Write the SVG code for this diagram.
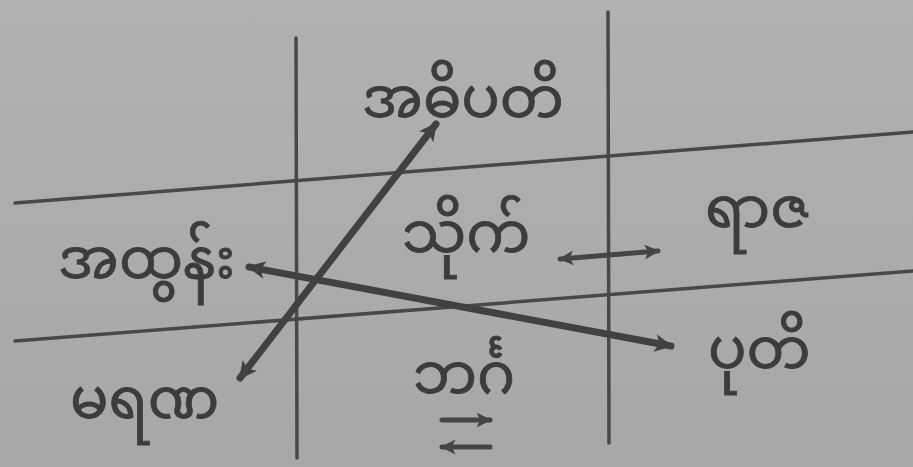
<svg xmlns="http://www.w3.org/2000/svg" width="913" height="467" viewBox="0 0 913 467">
  <defs>
    <linearGradient id="bg" x1="0" y1="0" x2="0" y2="1">
      <stop offset="0" stop-color="#b1b1b3"/>
      <stop offset="1" stop-color="#a7a7a9"/>
    </linearGradient>
    <marker id="headL" viewBox="0 0 10 10" refX="9" refY="5" markerWidth="22" markerHeight="18" markerUnits="userSpaceOnUse" orient="auto-start-reverse">
      <path d="M0,0 L10,5 L0,10 L2.5,5 Z" fill="#414143"/>
    </marker>
    <marker id="headS" viewBox="0 0 10 10" refX="9" refY="5" markerWidth="16" markerHeight="15" markerUnits="userSpaceOnUse" orient="auto-start-reverse">
      <path d="M0,0 L10,5 L0,10 L2.5,5 Z" fill="#454547"/>
    </marker>
  </defs>
  <style>
    .rule { stroke: #48484a; stroke-width: 3.5; fill: none; stroke-linecap: round; }
    .thick { stroke: #414143; stroke-width: 7; fill: none; stroke-linecap: round; }
    .thin { stroke: #454547; stroke-width: 5; fill: none; stroke-linecap: round; }
    .lbl { font-family: "Noto Sans Myanmar", "Padauk", "Myanmar Text", "Noto Sans", "DejaVu Sans", sans-serif; font-size: 57px; fill: #3c3c3e; stroke: #3c3c3e; stroke-width: 0.8; }
  </style>
  <rect width="913" height="467" fill="url(#bg)"/>

  <g id="grid">
    <line class="rule" x1="296" y1="38" x2="297" y2="458"/>
    <line class="rule" x1="608" y1="12" x2="609" y2="443"/>
    <line class="rule" x1="15" y1="203" x2="913" y2="132"/>
    <line class="rule" x1="15" y1="341" x2="913" y2="271"/>
  </g>

  <g id="connectors">
    <line class="thick" x1="240" y1="378" x2="436" y2="124" marker-start="url(#headL)" marker-end="url(#headL)"/>
    <line class="thick" x1="249" y1="267" x2="671" y2="346" marker-start="url(#headL)" marker-end="url(#headL)"/>
    <line class="thin" x1="560" y1="259" x2="658" y2="251" marker-start="url(#headS)" marker-end="url(#headS)"/>
    <line class="thin" x1="442" y1="420" x2="490" y2="420" marker-end="url(#headS)"/>
    <line class="thin" x1="442" y1="447" x2="490" y2="447" marker-start="url(#headS)"/>
  </g>

  <g id="n-adhipati"><text class="lbl" x="362" y="117">အဓိပတိ</text></g>
  <g id="n-athun"><text class="lbl" x="58" y="278">အထွန်း</text></g>
  <g id="n-theik"><text class="lbl" x="402" y="252">သိုက်</text></g>
  <g id="n-raza"><text class="lbl" x="705" y="227">ရာဇ</text></g>
  <g id="n-puti"><text class="lbl" x="708" y="368">ပုတိ</text></g>
  <g id="n-marana"><text class="lbl" x="70" y="418">မရဏ</text></g>
  <g id="n-bhinga"><text class="lbl" x="413" y="393">ဘင်္ဂ</text></g>
</svg>
